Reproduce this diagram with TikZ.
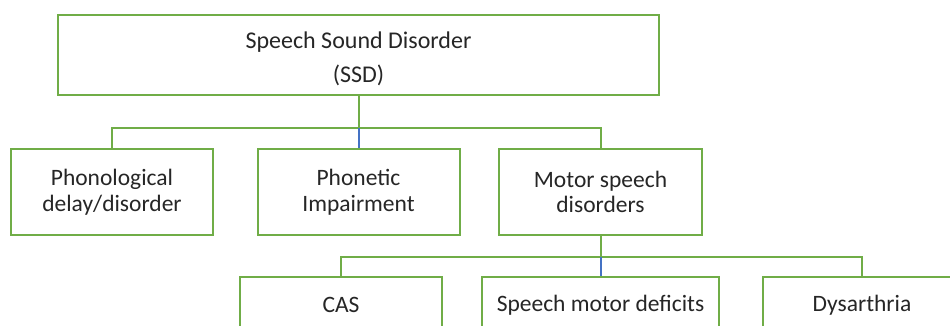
\documentclass[tikz,border=0pt]{standalone}
\usepackage{fontspec}
\setmainfont{Carlito}
\definecolor{sgreen}{HTML}{70AD47}
\definecolor{sblue}{HTML}{4472C4}
\definecolor{txt}{HTML}{262626}
\begin{document}
\begin{tikzpicture}[x=1pt,y=-1pt,
 box/.style={draw=sgreen,line width=2pt,fill=white,inner sep=0pt,align=center,text=txt,font=\fontsize{23.5}{25.5}\selectfont},
 conn/.style={draw=sgreen,line width=2pt},
 bconn/.style={draw=sblue,line width=2pt}]
\useasboundingbox (0,0) rectangle (950,325);
\clip (0,0) rectangle (950,325);
\node[box,minimum width=601pt,minimum height=80pt] (ssd) at (358.5,55) {};
\node[inner sep=0pt,align=center,text=txt,font=\fontsize{24}{34}\selectfont,yshift=-3.5pt] (ssdtext) at (ssd.center) {Speech Sound Disorder\\(SSD)};
\node[box,minimum width=202pt,minimum height=86pt] (pd) at (112,192) {Phonological\\delay/disorder};
\node[box,minimum width=202pt,minimum height=86pt] (pi) at (358.5,192) {Phonetic\\Impairment};
\node[box,minimum width=203pt,minimum height=86pt] (msd) at (600.5,192) {Motor speech\\disorders};
\node[box,minimum width=202pt,minimum height=56pt] (cas) at (341,305) {CAS};
\node[box,minimum width=237pt,minimum height=56pt] (smd) at (600.5,305) {Speech motor deficits};
\node[box,minimum width=198pt,minimum height=56pt] (dys) at (862,305) {Dysarthria};
\coordinate (j1) at (358.5,128);
\coordinate (j2) at (600.5,257);
\draw[conn] (ssd.south) -- (j1);
\draw[conn] (pd.north) |- (j1) -| (msd.north);
\draw[bconn] (j1) -- (pi.north);
\draw[conn] (msd.south) -- (j2);
\draw[conn] (cas.north) |- (j2) -| (dys.north);
\draw[bconn] (j2) -- (smd.north);
\end{tikzpicture}
\end{document}
